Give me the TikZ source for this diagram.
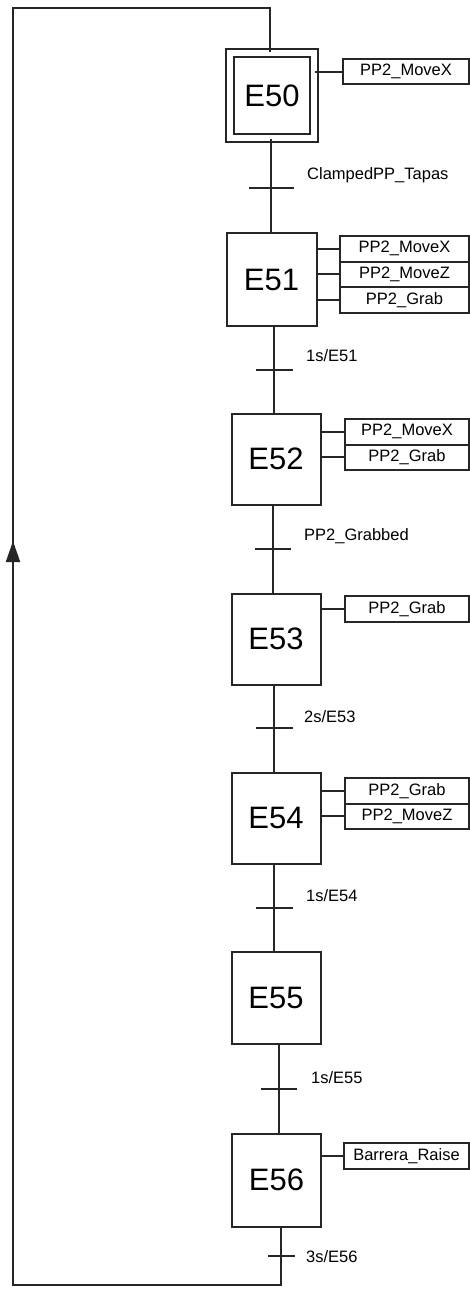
\documentclass[tikz,border=0pt]{standalone}
\usepackage{fontspec}
\setmainfont{Liberation Sans}
\usetikzlibrary{arrows.meta}
\begin{document}
\begin{tikzpicture}[x=1pt,y=-1pt,
  ln/.style={draw=black!85,line width=2pt},
  stepbox/.style={ln,rectangle,minimum width=89pt,minimum height=91pt,inner sep=0pt,font=\fontsize{31}{31}\selectfont},
  initbox/.style={stepbox,minimum width=84pt,minimum height=85pt,double,double distance=6pt},
  act/.style={ln,rectangle,anchor=north west,minimum height=25.5pt,inner sep=0pt,font=\fontsize{16.5}{16.5}\selectfont},
  tbar/.style={rectangle,fill=black!85,inner sep=0pt,minimum height=2pt},
  tlab/.style={anchor=base west,inner sep=0pt,font=\fontsize{16.5}{16.5}\selectfont}]
\useasboundingbox (0,0) rectangle (469,1289);
% steps
\node[initbox] (e50) at (272,95.5) {E50};
\node[stepbox,minimum width=90pt,minimum height=92pt] (e51) at (271.5,279.5) {E51};
\node[stepbox] (e52) at (276,459) {E52};
\node[stepbox] (e53) at (276,639) {E53};
\node[stepbox] (e54) at (276,818) {E54};
\node[stepbox,minimum height=92pt] (e55) at (276,997.5) {E55};
\node[stepbox,minimum height=93pt] (e56) at (276.5,1180) {E56};
% actions
\node[act,minimum width=126pt] (a50) at (342,58) {PP2\_MoveX};
\node[act,minimum width=129pt] (a51a) at (339,235) {PP2\_MoveX};
\node[act,minimum width=129pt] (a51b) at (339,260.5) {PP2\_MoveZ};
\node[act,minimum width=129pt] (a51c) at (339,286) {PP2\_Grab};
\node[act,minimum width=124pt] (a52a) at (344,418) {PP2\_MoveX};
\node[act,minimum width=124pt] (a52b) at (344,443.5) {PP2\_Grab};
\node[act,minimum width=124pt] (a53) at (344,595) {PP2\_Grab};
\node[act,minimum width=124pt] (a54a) at (344,777) {PP2\_Grab};
\node[act,minimum width=124pt] (a54b) at (344,802.5) {PP2\_MoveZ};
\node[act,minimum width=125pt] (a56) at (343,1142) {Barrera\_Raise};
\foreach \s/\a in {e50/a50,e51/a51a,e51/a51b,e51/a51c,e52/a52a,e52/a52b,e53/a53,e54/a54a,e54/a54b,e56/a56}
  \draw[ln] (\a.west) -- (\a.west -| \s.east);
% transitions
\node[tbar,minimum width=45pt] (t0) at (271,188) {};
\node[tbar,minimum width=37pt] (t1) at (274,370) {};
\node[tbar,minimum width=36pt] (t2) at (273,549) {};
\node[tbar,minimum width=37pt] (t3) at (274,728) {};
\node[tbar,minimum width=37pt] (t4) at (274,908) {};
\node[tbar,minimum width=36pt] (t5) at (279,1089) {};
\node[tbar,minimum width=27pt] (t6) at (281,1256) {};
\node[tlab] (l0) at (307,180) {ClampedPP\_Tapas};
\node[tlab] (l1) at (306,361) {1s/E51};
\node[tlab] (l2) at (304,540) {PP2\_Grabbed};
\node[tlab] (l3) at (304,722) {2s/E53};
\node[tlab] (l4) at (306,901) {1s/E54};
\node[tlab] (l5) at (311,1083) {1s/E55};
\node[tlab] (l6) at (306,1262) {3s/E56};
\draw[ln] (e50.south -| t0) -- (e51.north -| t0);
\draw[ln] (e51.south -| t1) -- (e52.north -| t1);
\draw[ln] (e52.south -| t2) -- (e53.north -| t2);
\draw[ln] (e53.south -| t3) -- (e54.north -| t3);
\draw[ln] (e54.south -| t4) -- (e55.north -| t4);
\draw[ln] (e55.south -| t5) -- (e56.north -| t5);
% return loop
\coordinate (br) at (281,1285);
\coordinate (bl) at (13,1285);
\coordinate (am) at (13,541);
\coordinate (tl) at (13,8);
\coordinate (tr) at (270,8);
\draw[ln,line join=miter] (e56.south -| t6) -- (br) -- (bl) -- (am);
\draw[ln,-{Triangle[length=21pt,width=14pt]}] (bl) -- (am);
\draw[ln,line join=miter] (am) -- (tl) -- (tr) -- (e50.north -| tr);
\end{tikzpicture}
\end{document}
